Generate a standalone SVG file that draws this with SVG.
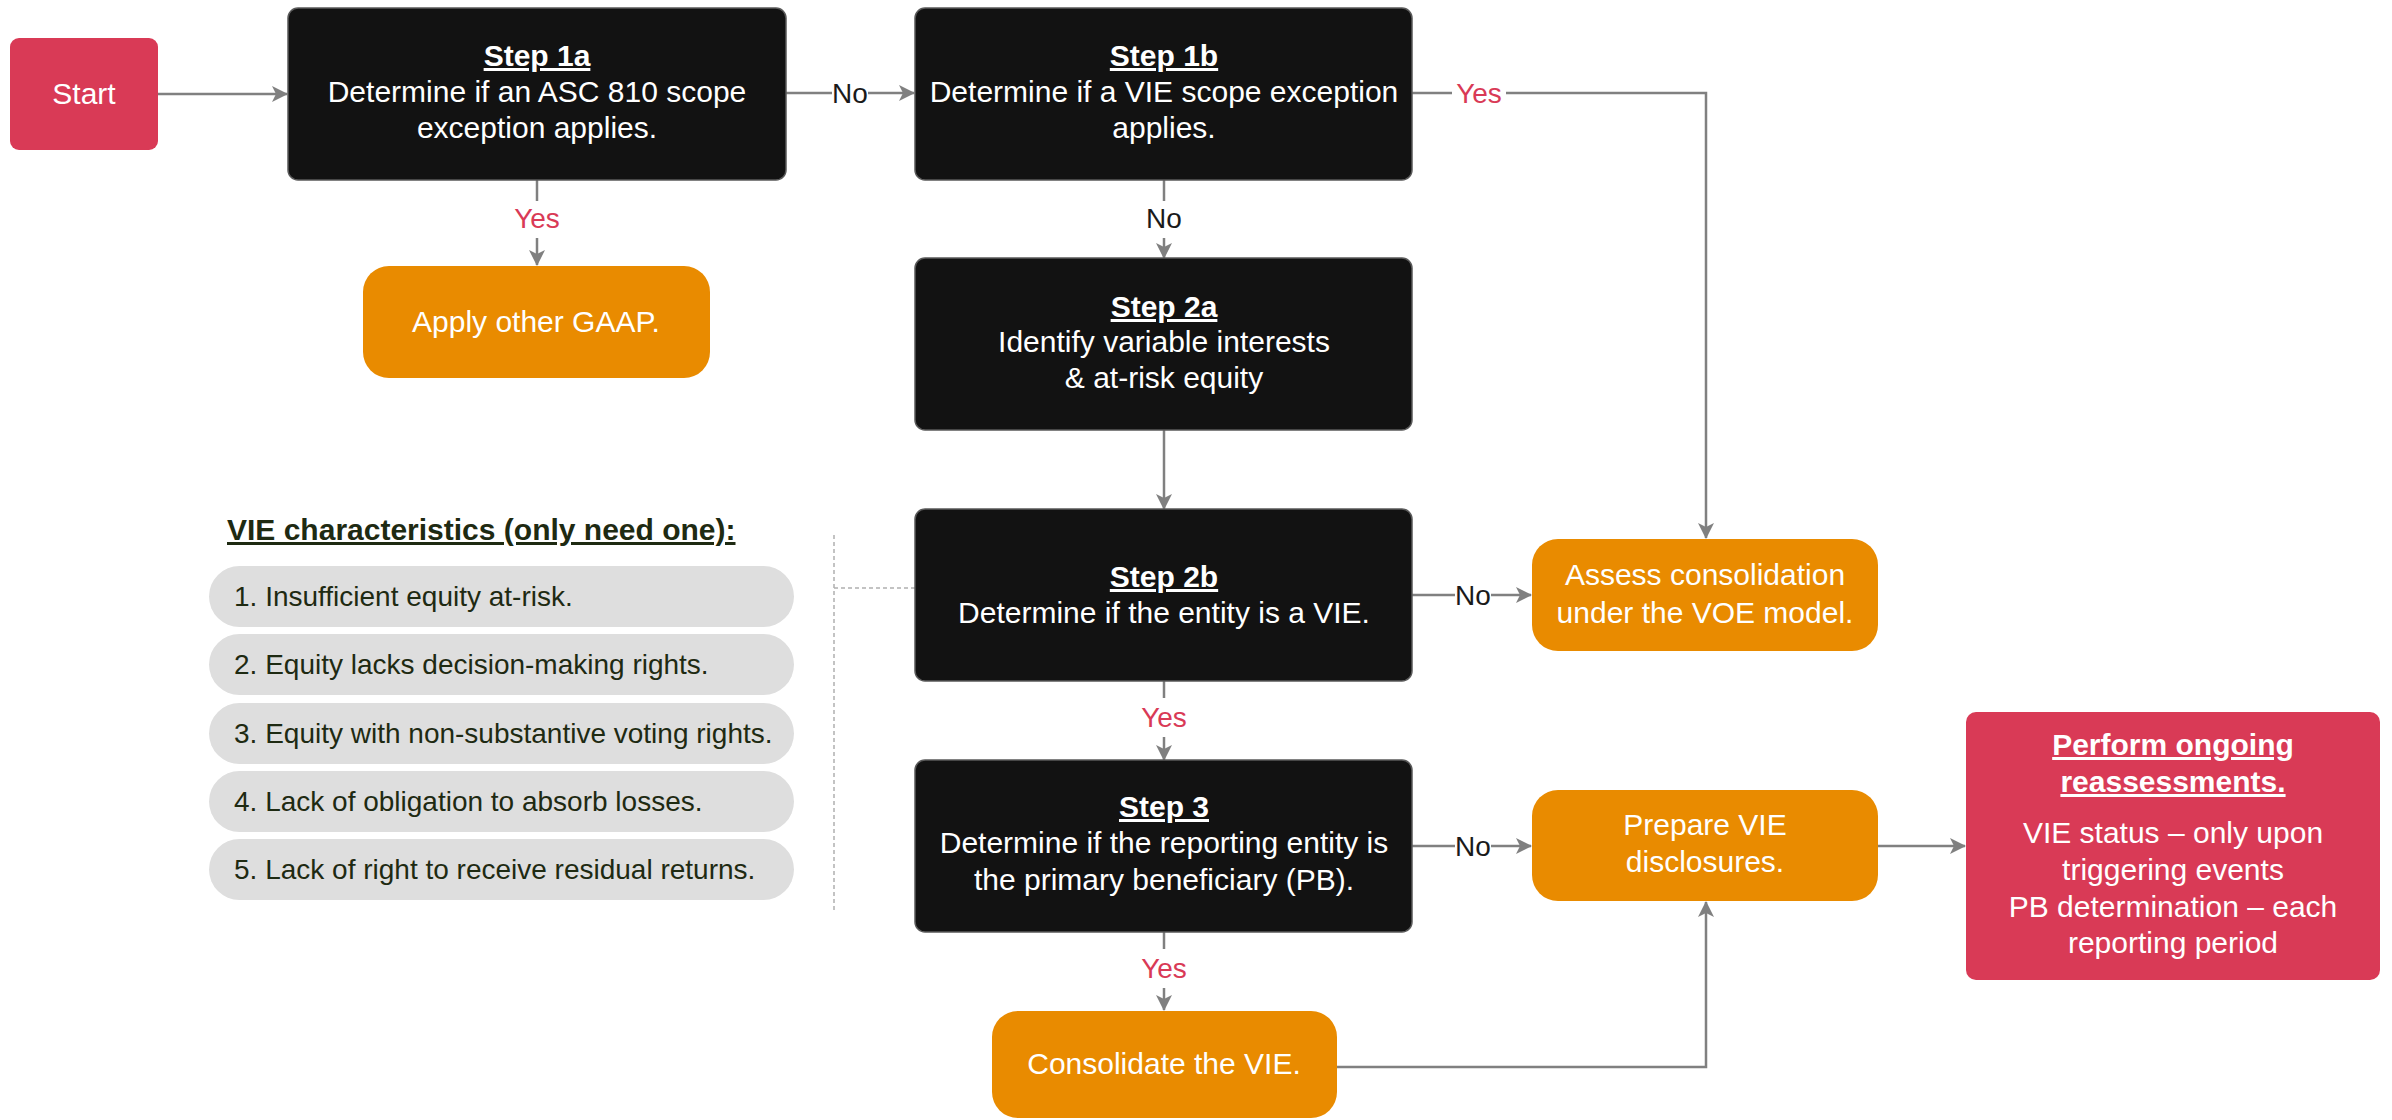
<svg xmlns="http://www.w3.org/2000/svg" width="2392" height="1120" viewBox="0 0 2392 1120">
<style>
.bk{fill:#121212;stroke:#5a5a5a;stroke-width:1.5}
.or{fill:#E98B00}
.rd{fill:#D93A56}
.pill{fill:#DEDEDE}
.t{font-family:"Liberation Sans",Arial,sans-serif;font-size:30px;fill:#fff;text-anchor:middle}
.tb{font-weight:bold;text-decoration:underline}
.lbl{font-family:"Liberation Sans",Arial,sans-serif;font-size:28px;text-anchor:middle}
.yes{fill:#D93A56}
.no{fill:#1a1a1a}
.conn{fill:none;stroke:#808080;stroke-width:2.5}
.dash{fill:none;stroke:#b0b0b0;stroke-width:1.5;stroke-dasharray:4 3}
.pt{font-family:"Liberation Sans",Arial,sans-serif;font-size:28px;fill:#1E2A12}
.bg{fill:#fff}
</style>
<defs>
<marker id="ah" markerUnits="userSpaceOnUse" markerWidth="16" markerHeight="16" refX="15" refY="8" orient="auto">
<path d="M0,0 L16,8 L0,16 L4,8 z" fill="#808080"/>
</marker>
</defs>

<g id="connectors">
<path class="conn" d="M158,94 H287" marker-end="url(#ah)"/>
<path class="conn" d="M786,93 H914" marker-end="url(#ah)"/>
<path class="conn" d="M537,180 V265" marker-end="url(#ah)"/>
<path class="conn" d="M1412,93 H1706 V538" marker-end="url(#ah)"/>
<path class="conn" d="M1164,180 V258" marker-end="url(#ah)"/>
<path class="conn" d="M1164,430 V509" marker-end="url(#ah)"/>
<path class="conn" d="M1412,595 H1531" marker-end="url(#ah)"/>
<path class="conn" d="M1164,681 V760" marker-end="url(#ah)"/>
<path class="conn" d="M1412,846 H1531" marker-end="url(#ah)"/>
<path class="conn" d="M1164,932 V1010" marker-end="url(#ah)"/>
<path class="conn" d="M1336,1067 H1706 V902" marker-end="url(#ah)"/>
<path class="conn" d="M1878,846 H1965" marker-end="url(#ah)"/>
<path class="dash" d="M834,535 V910 M834,588 H915"/>
<rect class="bg" x="832" y="78" width="36" height="30"/>
<text class="lbl no" x="850" y="103">No</text>
<rect class="bg" x="1452" y="78" width="54" height="30"/>
<text class="lbl yes" x="1479" y="103">Yes</text>
<rect class="bg" x="508" y="201" width="58" height="37"/>
<text class="lbl yes" x="537" y="228">Yes</text>
<rect class="bg" x="1146" y="201" width="36" height="37"/>
<text class="lbl no" x="1164" y="228">No</text>
<rect class="bg" x="1135" y="698" width="58" height="39"/>
<text class="lbl yes" x="1164" y="727">Yes</text>
<rect class="bg" x="1135" y="949" width="58" height="39"/>
<text class="lbl yes" x="1164" y="978">Yes</text>
<rect class="bg" x="1455" y="580" width="36" height="30"/>
<text class="lbl no" x="1473" y="605">No</text>
<rect class="bg" x="1455" y="831" width="36" height="30"/>
<text class="lbl no" x="1473" y="856">No</text>
</g>

<g id="start">
<rect class="rd" x="10" y="38" width="148" height="112" rx="9"/>
<text class="t" x="84" y="104">Start</text>
</g>

<g id="step1a">
<rect class="bk" x="288" y="8" width="498" height="172" rx="10"/>
<text class="t tb" x="537" y="66">Step 1a</text>
<text class="t" x="537" y="102">Determine if an ASC 810 scope</text>
<text class="t" x="537" y="138">exception applies.</text>
</g>

<g id="apply-gaap">
<rect class="or" x="363" y="266" width="347" height="112" rx="26"/>
<text class="t" x="536" y="332">Apply other GAAP.</text>
</g>

<g id="step1b">
<rect class="bk" x="915" y="8" width="497" height="172" rx="10"/>
<text class="t tb" x="1164" y="66">Step 1b</text>
<text class="t" x="1164" y="102">Determine if a VIE scope exception</text>
<text class="t" x="1164" y="138">applies.</text>
</g>

<g id="step2a">
<rect class="bk" x="915" y="258" width="497" height="172" rx="10"/>
<text class="t tb" x="1164" y="317">Step 2a</text>
<text class="t" x="1164" y="352">Identify variable interests</text>
<text class="t" x="1164" y="388">&amp; at-risk equity</text>
</g>

<g id="step2b">
<rect class="bk" x="915" y="509" width="497" height="172" rx="10"/>
<text class="t tb" x="1164" y="587">Step 2b</text>
<text class="t" x="1164" y="623">Determine if the entity is a VIE.</text>
</g>

<g id="assess-voe">
<rect class="or" x="1532" y="539" width="346" height="112" rx="26"/>
<text class="t" x="1705" y="585">Assess consolidation</text>
<text class="t" x="1705" y="623">under the VOE model.</text>
</g>

<g id="step3">
<rect class="bk" x="915" y="760" width="497" height="172" rx="10"/>
<text class="t tb" x="1164" y="817">Step 3</text>
<text class="t" x="1164" y="853">Determine if the reporting entity is</text>
<text class="t" x="1164" y="890">the primary beneficiary (PB).</text>
</g>

<g id="prepare-disclosures">
<rect class="or" x="1532" y="790" width="346" height="111" rx="26"/>
<text class="t" x="1705" y="835">Prepare VIE</text>
<text class="t" x="1705" y="872">disclosures.</text>
</g>

<g id="consolidate">
<rect class="or" x="992" y="1011" width="345" height="107" rx="26"/>
<text class="t" x="1164" y="1074">Consolidate the VIE.</text>
</g>

<g id="reassess">
<rect class="rd" x="1966" y="712" width="414" height="268" rx="10"/>
<text class="t tb" x="2173" y="755">Perform ongoing</text>
<text class="t tb" x="2173" y="792">reassessments.</text>
<text class="t" x="2173" y="843">VIE status – only upon</text>
<text class="t" x="2173" y="880">triggering events</text>
<text class="t" x="2173" y="917">PB determination – each</text>
<text class="t" x="2173" y="953">reporting period</text>
</g>

<g id="vie-characteristics">
<text class="pt" x="227" y="540" font-size="30" font-weight="bold" text-decoration="underline" style="font-size:30px">VIE characteristics (only need one):</text>
<rect class="pill" x="209" y="566" width="585" height="61" rx="30.5"/>
<text class="pt" x="234" y="606">1. Insufficient equity at-risk.</text>
<rect class="pill" x="209" y="634" width="585" height="61" rx="30.5"/>
<text class="pt" x="234" y="674">2. Equity lacks decision-making rights.</text>
<rect class="pill" x="209" y="703" width="585" height="61" rx="30.5"/>
<text class="pt" x="234" y="743">3. Equity with non-substantive voting rights.</text>
<rect class="pill" x="209" y="771" width="585" height="61" rx="30.5"/>
<text class="pt" x="234" y="811">4. Lack of obligation to absorb losses.</text>
<rect class="pill" x="209" y="839" width="585" height="61" rx="30.5"/>
<text class="pt" x="234" y="879">5. Lack of right to receive residual returns.</text>
</g>
</svg>
